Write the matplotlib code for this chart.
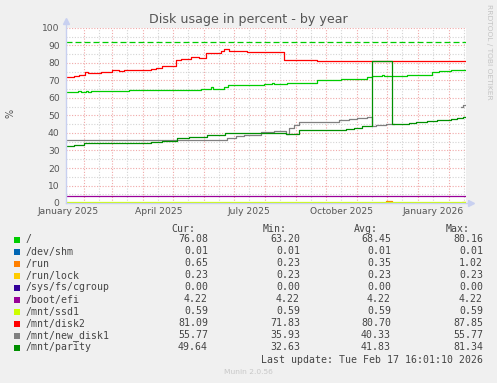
import matplotlib
matplotlib.use("Agg")
import matplotlib.pyplot as plt
import matplotlib.dates as mdates
from matplotlib.patches import Rectangle
import pandas as pd
import numpy as np

# time window of the munin "by year" graph
start = pd.Timestamp("2025-01-13 16:00")
end = pd.Timestamp("2026-02-17 16:00")

names = ["/", "/dev/shm", "/run", "/run/lock", "/sys/fs/cgroup", "/boot/efi",
         "/mnt/ssd1", "/mnt/disk2", "/mnt/new_disk1", "/mnt/parity"]
colors = ["#00CC00", "#0066B3", "#FF8000", "#FFCC00", "#330099", "#990099",
          "#CCFF00", "#FF0000", "#808080", "#008F00"]
cur = ["76.08", "0.01", "0.65", "0.23", "0.00", "4.22", "0.59", "81.09", "55.77", "49.64"]
mins = ["63.20", "0.01", "0.23", "0.23", "0.00", "4.22", "0.59", "71.83", "35.93", "32.63"]
avgs = ["68.45", "0.01", "0.35", "0.23", "0.00", "4.22", "0.59", "80.70", "40.33", "41.83"]
maxs = ["80.16", "0.01", "1.02", "0.23", "0.00", "4.22", "0.59", "87.85", "55.77", "81.34"]

# step data (date where value starts, value)
root_d = ["2025-01-13 16:00", "2025-01-26", "2025-01-29", "2025-02-03", "2025-02-05", "2025-02-08",
          "2025-03-18", "2025-04-10", "2025-04-14", "2025-04-20", "2025-04-24", "2025-05-29",
          "2025-06-08", "2025-06-10", "2025-06-21", "2025-06-25", "2025-07-31", "2025-08-08",
          "2025-08-10", "2025-08-23", "2025-09-22", "2025-10-16", "2025-11-11", "2025-11-16",
          "2025-11-26", "2025-11-28", "2025-12-21", "2026-01-15", "2026-01-22", "2026-02-03"]
root_v = [63.3, 63.8, 63.3, 63.9, 63.4, 63.8,
          64.3, 64.6, 64.3, 64.6, 64.3, 65.0,
          66.0, 65.0, 66.5, 67.2, 68.0, 68.6,
          68.0, 68.8, 70.0, 70.9, 71.8, 72.6,
          73.4, 72.6, 73.3, 74.9, 75.6, 76.1]

disk2_d = ["2025-01-13 16:00", "2025-01-22", "2025-01-27", "2025-02-02", "2025-02-05", "2025-02-18",
           "2025-03-01", "2025-03-08", "2025-03-13", "2025-04-09", "2025-04-14", "2025-04-20",
           "2025-05-04", "2025-05-09", "2025-05-19", "2025-05-27", "2025-06-03", "2025-06-18",
           "2025-06-21", "2025-06-26", "2025-07-14", "2025-08-20", "2025-09-22"]
disk2_v = [71.8, 72.6, 73.3, 75.0, 74.1, 74.9,
           75.8, 75.4, 75.8, 76.4, 77.0, 78.1,
           81.5, 82.1, 83.2, 82.7, 85.5, 86.9,
           87.8, 86.9, 86.1, 81.5, 81.1]

new1_d = ["2025-01-13 16:00", "2025-06-24", "2025-07-03", "2025-07-11", "2025-07-28", "2025-08-10",
          "2025-08-22", "2025-08-25", "2025-08-30", "2025-09-04", "2025-10-14", "2025-10-24",
          "2025-11-01", "2025-11-11", "2025-11-16", "2025-11-20", "2025-11-30", "2025-12-08",
          "2026-02-13", "2026-02-15"]
new1_v = [36.0, 37.0, 38.1, 39.0, 40.6, 41.3,
          39.4, 42.7, 44.6, 46.5, 47.4, 48.0,
          48.8, 49.3, 44.0, 44.6, 45.1, np.nan,
          55.0, 55.8]

parity_d = ["2025-01-13 16:00", "2025-01-22", "2025-02-01", "2025-04-09", "2025-04-20", "2025-05-05",
            "2025-05-17", "2025-06-04", "2025-06-22", "2025-08-22", "2025-09-04", "2025-10-21",
            "2025-10-29", "2025-11-06", "2025-11-16", "2025-12-06", "2025-12-23", "2025-12-30",
            "2026-01-10", "2026-01-20", "2026-02-03", "2026-02-09", "2026-02-15"]
parity_v = [32.6, 33.1, 34.1, 34.8, 35.5, 36.9,
            37.5, 38.8, 39.8, 39.4, 41.7, 42.3,
            43.0, 43.8, 81.3, 45.1, 45.5, 46.3,
            46.9, 47.4, 48.0, 48.6, 49.3]

run_d = ["2025-01-13 16:00", "2025-11-30", "2025-12-06", "2026-02-14"]
run_v = [0.23, 1.02, 0.23, 0.65]

flat_vals = {"/dev/shm": 0.01, "/run/lock": 0.23, "/sys/fs/cgroup": 0.0,
             "/boot/efi": 4.22, "/mnt/ssd1": 0.59}
step_series = {"/": (root_d, root_v), "/run": (run_d, run_v),
               "/mnt/disk2": (disk2_d, disk2_v), "/mnt/new_disk1": (new1_d, new1_v),
               "/mnt/parity": (parity_d, parity_v)}
warning = 92

W, H = 497, 383
fig = plt.figure(figsize=(W / 100, H / 100), dpi=100, facecolor="#F0F0F0")
L, R, T, B = 66, 466, 28, 203
ax = fig.add_axes([L / W, 1 - B / H, (R - L) / W, (B - T) / H], facecolor="white")

# grid
for m in pd.date_range("2025-01-16", "2026-02-16", freq="MS") + pd.Timedelta(days=15):
    ax.axvline(m, color="#D4D4D4", lw=0.8, ls=(0, (1, 1.5)), zorder=0)
for m in pd.date_range("2025-02-01", "2026-02-01", freq="MS"):
    ax.axvline(m, color="#F0A8A8", lw=0.8, ls=(0, (1, 1.5)), zorder=0.5)
for y in range(5, 100, 10):
    ax.axhline(y, color="#D4D4D4", lw=0.8, ls=(0, (1, 1.5)), zorder=0)
for y in range(10, 101, 10):
    ax.axhline(y, color="#F0A8A8", lw=0.8, ls=(0, (1, 1.5)), zorder=0.5)

for name, col in zip(names, colors):
    if name in step_series:
        d, v = step_series[name]
        d = list(pd.to_datetime(d, format="mixed")) + [end]
        v = list(v) + [v[-1]]
    else:
        d = [start, end]
        v = [flat_vals[name]] * 2
    ax.step(d, v, where="post", color=col, lw=0.9, zorder=2)

ax.axhline(warning, color="#00CC00", lw=0.9, ls=(0, (4.8, 2.4)), zorder=2)

ax.set_xlim(start, end)
ax.set_ylim(0, 100)
ax.set_yticks(range(0, 101, 10))
ax.set_xticks(pd.to_datetime(["2025-01-16", "2025-04-16", "2025-07-16", "2025-10-16", "2026-01-16"]))
ax.xaxis.set_major_formatter(mdates.DateFormatter("%B %Y"))
ax.tick_params(length=0, labelsize=6.6, colors="#555555")
ax.tick_params(axis="y", pad=4.5)
ax.tick_params(axis="x", pad=3)
for s in ax.spines.values():
    s.set_visible(False)

# axis arrows
axc = "#C8D0F0"
ax.plot([start, start], [0, 103.5], color=axc, lw=1, clip_on=False, zorder=3)
ax.plot([start, end + pd.Timedelta(days=4)], [0, 0], color=axc, lw=1, clip_on=False, zorder=3)
ax.plot([start], [103.8], marker="^", ms=5, color=axc, clip_on=False, zorder=3)
ax.plot([end + pd.Timedelta(days=5)], [0], marker=">", ms=5, color=axc, clip_on=False, zorder=3)


def ft(x, y, s, **kw):
    fig.text(x / W, 1 - y / H, s, **kw)


ft(248, 19, "Disk usage in percent - by year", ha="center", va="center", fontsize=9.1, color="#555555")
ft(10, 113, "%", ha="center", va="center", rotation=90, fontsize=7, color="#555555")
ft(489, 52, "RRDTOOL / TOBI OETIKER", ha="center", va="center", rotation=270, fontsize=5.4, color="#C4C4C4")

mono = dict(family="DejaVu Sans Mono", fontsize=7.1, color="#444444", va="center")
ft(195, 228.5, "Cur:", ha="right", **mono)
ft(287, 228.5, "Min:", ha="right", **mono)
ft(378, 228.5, "Avg:", ha="right", **mono)
ft(470, 228.5, "Max:", ha="right", **mono)
for i, name in enumerate(names):
    y = 239.5 + 12 * i
    fig.patches.append(Rectangle((14 / W, 1 - (y + 3) / H), 6 / W, 6 / H,
                                 transform=fig.transFigure, facecolor=colors[i], edgecolor="none"))
    ft(26, y, name, ha="left", **mono)
    ft(208, y, cur[i], ha="right", **mono)
    ft(300, y, mins[i], ha="right", **mono)
    ft(391, y, avgs[i], ha="right", **mono)
    ft(483, y, maxs[i], ha="right", **mono)
ft(483, 360, "Last update: Tue Feb 17 16:01:10 2026", ha="right", **mono)
ft(248, 372, "Munin 2.0.56", ha="center", va="center", fontsize=5.4, color="#C8C8C8")

fig.savefig("out.png", dpi=100, facecolor=fig.get_facecolor())
